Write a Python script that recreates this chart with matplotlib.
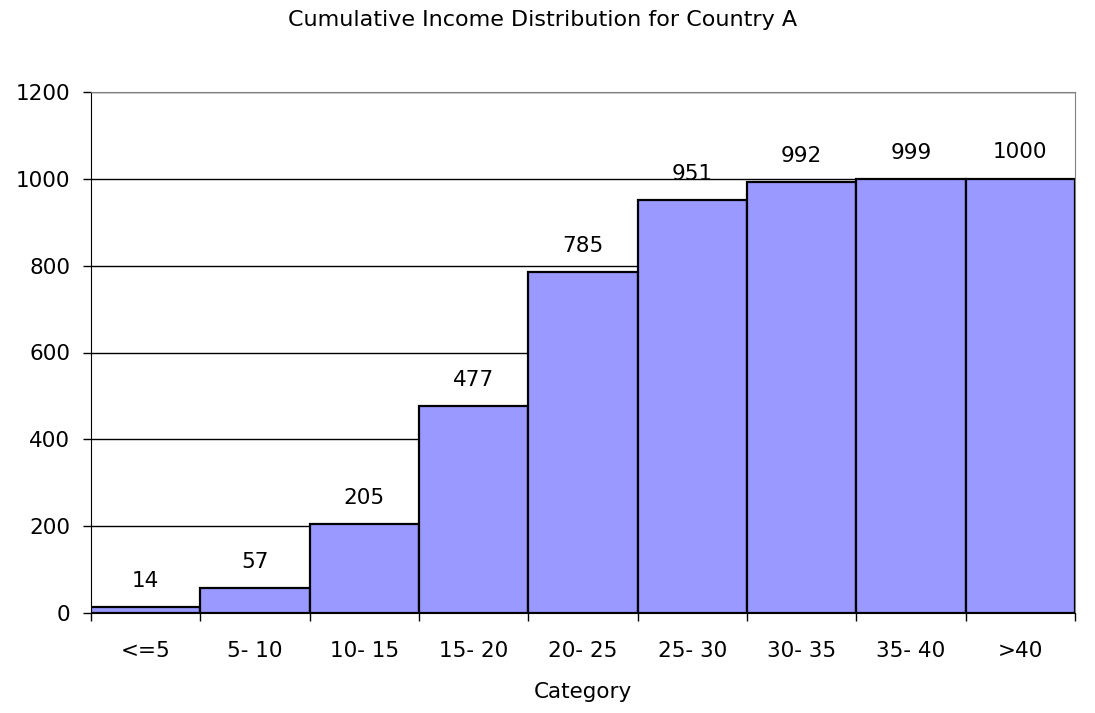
import numpy as np
import matplotlib
matplotlib.use("Agg")
import matplotlib.pyplot as plt

plt.rcParams['font.family'] = ['DejaVu Sans']

categories = ["<=5", "5- 10", "10- 15", "15- 20", "20- 25", "25- 30", "30- 35", "35- 40", ">40"]
values = [14, 57, 205, 477, 785, 951, 992, 999, 1000]
yticks = [0, 200, 400, 600, 800, 1000, 1200]

fs = 15.5

fig = plt.figure(figsize=(10.95, 7.13), dpi=100)
ax = fig.add_axes([91/1095, 1 - 613/713, (1075 - 91)/1095, (613 - 92)/713])

x = np.arange(len(categories))
ax.bar(x, values, width=1.0, color="#9999FF", edgecolor="black", linewidth=1.6, zorder=3)

for xi, v in zip(x, values):
    ax.annotate(str(v), (xi, v), xytext=(0, 19), textcoords="offset points",
                ha="center", va="center", fontsize=fs, zorder=4)

ax.set_xlim(-0.5, len(categories) - 0.5)
ax.set_ylim(0, 1200)
ax.set_yticks(yticks)
ax.yaxis.grid(True, color="black", linewidth=1.0, zorder=0)
ax.tick_params(axis="y", labelsize=fs, length=6, width=1, pad=9)

ax.set_xticks(x)
ax.set_xticklabels(categories)
ax.set_xticks(np.arange(len(categories) + 1) - 0.5, minor=True)
ax.tick_params(axis="x", which="major", length=0, labelsize=fs, pad=20)
ax.tick_params(axis="x", which="minor", length=6, width=1)

ax.spines["left"].set_color("black")
ax.spines["bottom"].set_color("black")
ax.spines["top"].set_color("gray")
ax.spines["right"].set_color("gray")

ax.set_xlabel("Category", fontsize=fs, labelpad=15)
fig.text(543/1095, 1 - 20/713, "Cumulative Income Distribution for Country A",
         ha="center", va="center", fontsize=16)

fig.savefig("out.png", dpi=100)
